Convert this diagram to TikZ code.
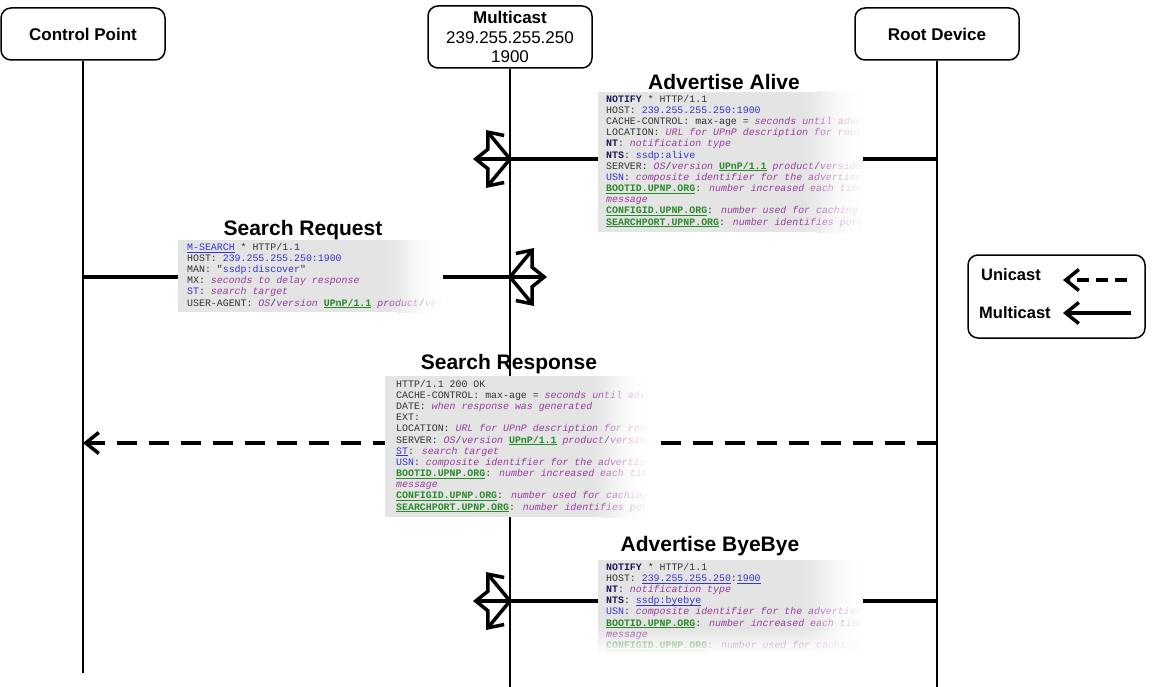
\documentclass[tikz,border=0pt]{standalone}
\usepackage{fontspec}
\setmainfont{Liberation Sans}
\newfontfamily\mono{Liberation Mono}
\usetikzlibrary{arrows.meta,fadings}
\definecolor{kn}{HTML}{1C1C5C}
\definecolor{tx}{HTML}{333333}
\definecolor{vb}{HTML}{3434D0}
\definecolor{dp}{HTML}{9A3CA0}
\definecolor{gr}{HTML}{2A8A2A}
\definecolor{blk}{HTML}{E4E4E4}
\tikzfading[name=fadeR, left color=transparent!100, right color=transparent!0]
\tikzfading[name=fadeD, top color=transparent!100, bottom color=transparent!0]
\newcommand\K[1]{\textbf{\color{kn}#1}}
\newcommand\V[1]{{\color{vb}#1}}
\newcommand\D[1]{{\color{dp}\itshape #1}}
\newcommand\ulc[2]{\setbox0\hbox{#2}\rlap{\color{#1}\rule[-2pt]{\wd0}{0.8pt}}\box0\relax}
\newcommand\G[1]{\ulc{gr}{\textbf{\color{gr}#1}}}
\tikzset{
  lbox/.style={draw, line width=1.5pt, rounded corners=10pt, fill=white},
  lifeln/.style={line width=1.5pt},
  msg/.style={line width=3.5pt},
  tip/.style={-{Straight Barb[length=13pt,width=21pt]}},
  uni/.style={msg, dash pattern=on 20pt off 12pt},
  ttl/.style={font=\fontsize{21}{24}\selectfont\bfseries},
  blocktext/.style={anchor=north west, inner sep=0pt, align=left, text=tx,
     font=\mono\fontsize{9.9}{11.15}\selectfont},
  legtext/.style={font=\fontsize{16.5}{19}\selectfont\bfseries, anchor=west, inner sep=0pt},
  mc/.pic={
    \draw[msg,tip] (0,0) -- (-37,0);
    \draw[msg,tip] (0,0) -- (-24,-29);
    \draw[msg,tip] (0,0) -- (-24,29);
  }
}
\newcommand\block[4]{% x0 y0 x1 y1
  \fill[blk] (#1,#2) rectangle ({#3-45},#4);
  \shade[left color=blk, right color=white] ({#3-45},#2) rectangle (#3,#4);
}
\begin{document}
\begin{tikzpicture}[x=1pt,y=-1pt]
\useasboundingbox (0,0) rectangle (1155,687);
% actor boxes
\node[lbox, minimum width=164pt, minimum height=52pt, font=\fontsize{17}{20}\selectfont\bfseries] (cp) at (83,34) {Control Point};
\node[lbox, minimum width=164pt, minimum height=52pt, font=\fontsize{17}{20}\selectfont\bfseries] (rd) at (937,34) {Root Device};
\node[lbox, minimum width=164pt, minimum height=62pt, align=center, font=\fontsize{17}{19.5}\selectfont] (mc) at (510,37) {\textbf{Multicast}\\239.255.255.250\\1900};
% lifelines
\coordinate (cpE) at (83,673);
\coordinate (mcE) at (510,687);
\coordinate (rdE) at (937,687);
\draw[lifeln] (cp.south) -- (cpE);
\draw[lifeln] (mc.south) -- (mcE);
\draw[lifeln] (rd.south) -- (rdE);
% message anchor points
\coordinate (rdA) at (937,159);
\coordinate (mcA) at (510,159);
\coordinate (cpR) at (83,277);
\coordinate (mcR) at (510,277);
\coordinate (rdS) at (937,443);
\coordinate (cpS) at (83,443);
\coordinate (rdB) at (937,601);
\coordinate (mcB) at (510,601);
% message lines
\draw[msg] (rdA) -- (mcA);
\draw[msg] (cpR) -- (mcR);
\draw[uni,tip] (rdS) -- (cpS);
\draw[msg] (rdB) -- (mcB);
% multicast arrowheads
\pic at (mcA) {mc};
\pic[xscale=-1] at (mcR) {mc};
\pic at (mcB) {mc};

% ---- Advertise Alive block
\block{598}{92}{862}{232}
\begin{scope}
\clip (598,92) rectangle (862,232);
\node[blocktext] (alive) at (606,95) {%
\K{NOTIFY} * HTTP/1.1\\
HOST: \V{239.255.255.250:1900}\\
CACHE-CONTROL: max-age = \D{seconds until advertisement expires}\\
LOCATION: \D{URL for UPnP description for root device}\\
\K{NT}: \D{notification type}\\
\K{NTS}: \V{ssdp:alive}\\
SERVER: \D{OS}/\D{version} \G{UPnP/1.1} \D{product}/\D{version}\\
\V{USN}: \D{composite identifier for the advertisement}\\
\G{BOOTID.UPNP.ORG}: \D{number increased each time device sends an initial announce or an update}\\
\D{message}\\
\G{CONFIGID.UPNP.ORG}: \D{number used for caching description information}\\
\G{SEARCHPORT.UPNP.ORG}: \D{number identifies port on which device responds to unicast M-SEARCH}};
\end{scope}
\fill[white, path fading=fadeR] (800,90) rectangle (863,233);
\node[ttl] (taa) at (724,82) {Advertise Alive};

% ---- Search Request block
\block{178}{240}{442}{312}
\begin{scope}
\clip (178,240) rectangle (442,312);
\node[blocktext] (req) at (187,243) {%
\ulc{vb}{\V{M-SEARCH}} * HTTP/1.1\\
HOST: \V{239.255.255.250:1900}\\
MAN: "\V{ssdp:discover}"\\
MX: \D{seconds to delay response}\\
\V{ST}: \D{search target}\\
USER-AGENT: \D{OS}/\D{version} \G{UPnP/1.1} \D{product}/\D{version}};
\end{scope}
\fill[white, path fading=fadeR] (385,238) rectangle (443,313);
\node[ttl] (tsr) at (303,230) {Search Request};

% ---- Search Response block
\block{385}{376}{648}{517}
\begin{scope}
\clip (385,376) rectangle (648,517);
\node[blocktext] (resp) at (396,380) {%
HTTP/1.1 200 OK\\
CACHE-CONTROL: max-age = \D{seconds until advertisement expires}\\
DATE: \D{when response was generated}\\
EXT:\\
LOCATION: \D{URL for UPnP description for root device}\\
SERVER: \D{OS}/\D{version} \G{UPnP/1.1} \D{product}/\D{version}\\
\ulc{vb}{\V{ST}}: \D{search target}\\
\V{USN}: \D{composite identifier for the advertisement}\\
\G{BOOTID.UPNP.ORG}: \D{number increased each time device sends an initial announce or an update}\\
\D{message}\\
\G{CONFIGID.UPNP.ORG}: \D{number used for caching description information}\\
\G{SEARCHPORT.UPNP.ORG}: \D{number identifies port on which device responds to unicast M-SEARCH}};
\end{scope}
\fill[white, path fading=fadeR] (590,374) rectangle (649,518);
\node[ttl] (tsp) at (509,364) {Search Response};

% ---- Advertise ByeBye block
\block{598}{560}{862}{652}
\begin{scope}
\clip (598,560) rectangle (862,652);
\node[blocktext] (bye) at (606,563) {%
\K{NOTIFY} * HTTP/1.1\\
HOST: \ulc{vb}{\V{239.255.255.250}}:\ulc{vb}{\V{1900}}\\
\K{NT}: \D{notification type}\\
\K{NTS}: \ulc{vb}{\V{ssdp:byebye}}\\
\V{USN}: \D{composite identifier for the advertisement}\\
\G{BOOTID.UPNP.ORG}: \D{number increased each time device sends an initial announce or an update}\\
\D{message}\\
\G{CONFIGID.UPNP.ORG}: \D{number used for caching description information}};
\end{scope}
\fill[white, path fading=fadeR] (800,558) rectangle (863,653);
\fill[white, path fading=fadeD] (596,628) rectangle (863,653);
\node[ttl] (tbb) at (710,546) {Advertise ByeBye};

% ---- legend
\node[draw, line width=1.5pt, rounded corners=10pt, minimum width=177pt, minimum height=83pt] (leg) at (1056.5,296.5) {};
\node[legtext] (lu) at (981,275) {Unicast};
\node[legtext] (lm) at (979,313) {Multicast};
\coordinate (luS) at (1127,280);
\coordinate (luE) at (1063,280);
\coordinate (lmS) at (1131,313);
\coordinate (lmE) at (1063,313);
\draw[msg, dash pattern=on 12pt off 7pt, tip] (luS) -- (luE);
\draw[msg, tip] (lmS) -- (lmE);
\end{tikzpicture}
\end{document}
